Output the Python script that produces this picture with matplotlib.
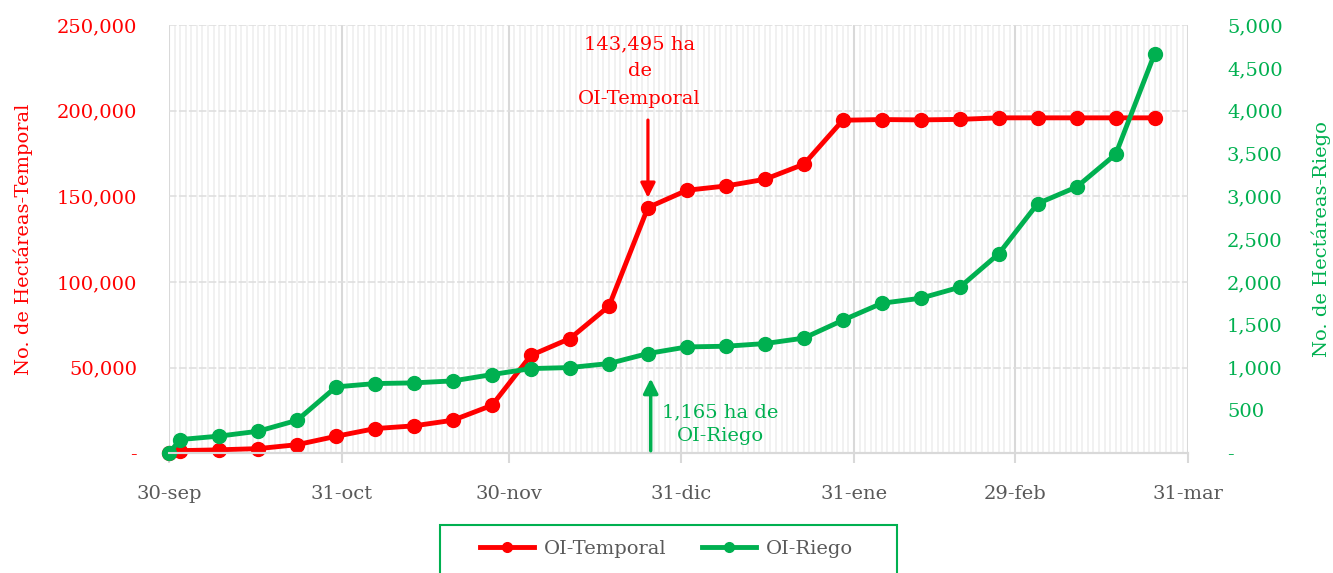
import numpy as np
import matplotlib
matplotlib.use('Agg')
import matplotlib.pyplot as plt
import matplotlib.dates as mdates
import matplotlib.transforms as mtransforms
from matplotlib.ticker import FuncFormatter, FixedLocator
from matplotlib.patches import Rectangle

plt.rcParams['font.family'] = ['DejaVu Serif']

fechas = ['2019-09-30', '2019-10-02', '2019-10-09', '2019-10-16', '2019-10-23', '2019-10-30',
          '2019-11-06', '2019-11-13', '2019-11-20', '2019-11-27', '2019-12-04', '2019-12-11',
          '2019-12-18', '2019-12-25', '2020-01-01', '2020-01-08', '2020-01-15', '2020-01-22',
          '2020-01-29', '2020-02-05', '2020-02-12', '2020-02-19', '2020-02-26', '2020-03-04',
          '2020-03-11', '2020-03-18', '2020-03-25']
temporal = [0, 1500, 2000, 2700, 5000, 9900, 14400, 16000, 19300, 28000, 57200, 67000,
            85900, 143495, 153600, 156100, 160000, 168800, 194500, 194900, 194700, 195000,
            195900, 195900, 195900, 195900, 195900]
riego = [0, 160, 200, 257, 385, 775, 814, 822, 845, 919, 989, 1001,
         1048, 1165, 1242, 1250, 1281, 1345, 1554, 1752, 1811, 1939,
         2330, 2917, 3111, 3493, 4669]

tick_fechas = ['2019-09-30', '2019-10-31', '2019-11-30', '2019-12-31', '2020-01-31', '2020-02-29', '2020-03-31']
tick_labels = ['30-sep', '31-oct', '30-nov', '31-dic', '31-ene', '29-feb', '31-mar']

rojo = '#FF0000'
verde = '#00B050'
gris = '#595959'

x = mdates.date2num(np.array(fechas, dtype='datetime64[D]'))
xt = mdates.date2num(np.array(tick_fechas, dtype='datetime64[D]'))

fig = plt.figure(figsize=(13.33, 5.73), dpi=100)
ax = fig.add_axes([0.1268, 0.209, 0.7645, 0.747])
ax2 = ax.twinx()

fs = 14

# rejilla
ax.set_xlim(xt[0], xt[-1])
ax.set_ylim(0, 250000)
ax2.set_ylim(0, 5000)
ax.xaxis.set_major_locator(FixedLocator(xt))
ax.set_xticklabels(tick_labels)
ax.xaxis.set_minor_locator(mdates.DayLocator())
ax.grid(which='minor', axis='x', color='#F0F0F0', lw=1.3)
ax.grid(which='major', axis='x', color='#D9D9D9', lw=1.5)
ax.grid(which='major', axis='y', color='#DDDDDD', lw=1.1, ls=(0, (5, 1.5)))
ax.set_axisbelow(True)
ax.set_yticks(np.arange(0, 250001, 50000))
ax2.set_yticks(np.arange(0, 5001, 500))

fmt = FuncFormatter(lambda v, p: '-' if v == 0 else f'{v:,.0f}')
ax.yaxis.set_major_formatter(fmt)
ax2.yaxis.set_major_formatter(fmt)

for a in (ax, ax2):
    for s in ['top', 'left', 'right']:
        a.spines[s].set_visible(False)
    a.spines['bottom'].set_color('#D9D9D9')
    a.spines['bottom'].set_linewidth(1.5)

ax.tick_params(axis='x', which='major', length=7, width=1.5, color='#D9D9D9', pad=16,
               labelsize=fs, labelcolor=gris)
ax.tick_params(axis='x', which='minor', length=0)
ax.tick_params(axis='y', length=0, pad=23, labelsize=fs, labelcolor=rojo)
ax2.tick_params(axis='y', length=0, pad=28, labelsize=fs, labelcolor=verde)
for lab in ax2.get_yticklabels():
    lab.set_horizontalalignment('left')

ax.set_ylabel('No. de Hectáreas-Temporal', color=rojo, fontsize=fs, labelpad=17)
ax2.set_ylabel('No. de Hectáreas-Riego', color=verde, fontsize=fs, rotation=90, labelpad=21)

l1, = ax.plot(x, temporal, color=rojo, lw=3.5, marker='o', ms=10, label='OI-Temporal',
              clip_on=False)
l2, = ax2.plot(x, riego, color=verde, lw=3.5, marker='o', ms=10, label='OI-Riego',
               clip_on=False)

# anotaciones
ax.annotate('', xy=(x[13], temporal[13]), xytext=(0, 63), textcoords='offset points',
            arrowprops=dict(arrowstyle='-|>', color=rojo, lw=2.3, shrinkA=0, shrinkB=7,
                            mutation_scale=22))
ax.annotate('143,495 ha\nde\nOI-Temporal', xy=(x[13], temporal[13]), xytext=(-6, 124),
            textcoords='offset points', ha='center', va='top', color=rojo, fontsize=fs,
            linespacing=1.65)
desplaza = ax2.transData + mtransforms.ScaledTranslation(2 / 72, 0, fig.dpi_scale_trans)
ax2.annotate('', xy=(x[13], riego[13]), xycoords=desplaza, xytext=(0, -70),
             textcoords='offset points',
             arrowprops=dict(arrowstyle='-|>', color=verde, lw=2.5, shrinkA=0, shrinkB=18,
                             mutation_scale=22))
ax2.annotate('1,165 ha de\nOI-Riego', xy=(x[13], riego[13]), xytext=(10, -51),
             textcoords='offset points', ha='left', va='center', color=verde, fontsize=fs,
             linespacing=1.45, multialignment='center')

leg = fig.legend(handles=[l1, l2], loc='center', bbox_to_anchor=(0.5, 1 - 549 / 573),
                 ncol=2, fontsize=fs, frameon=False, handlelength=2.8, handletextpad=0.5,
                 columnspacing=1.8, borderaxespad=0, markerscale=0.7)
for t in leg.get_texts():
    t.set_color(gris)
fig.patches.append(Rectangle((440 / 1333, -0.05), 457 / 1333, 0.05 + 1 - 525 / 573,
                             transform=fig.transFigure, fill=False, edgecolor=verde, lw=1.5))

fig.savefig('out.png', dpi=100)
